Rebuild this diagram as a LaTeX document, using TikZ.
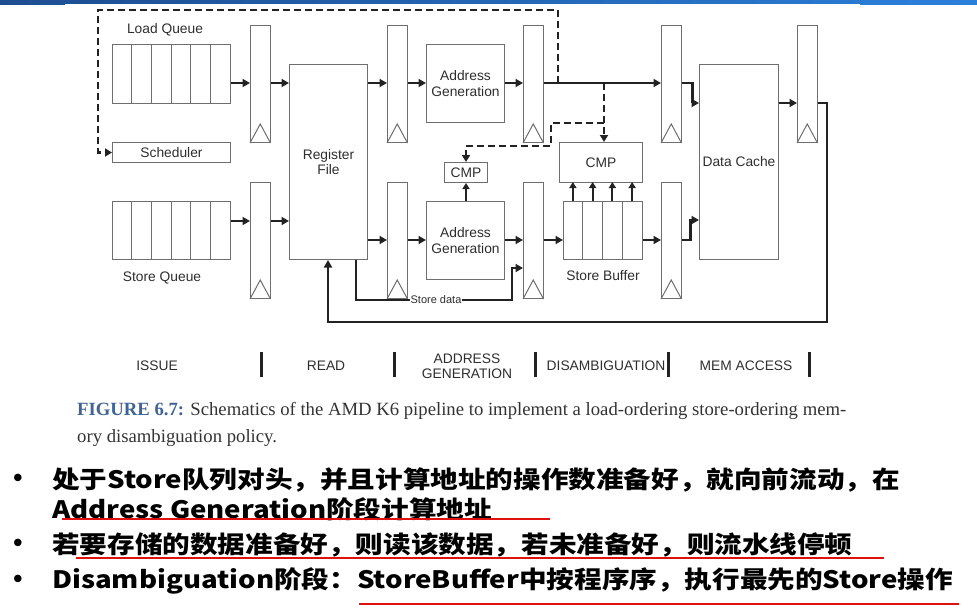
\documentclass[tikz,border=0pt]{standalone}
\usepackage{fontspec}
\setmainfont{Liberation Serif}
\newfontfamily\diagfont{Liberation Sans}
\newfontfamily\cjk{Noto Sans CJK SC}
\usetikzlibrary{arrows.meta}
\definecolor{boxgray}{HTML}{6E6E6E}
\definecolor{flowblack}{HTML}{222222}
\definecolor{labelgray}{HTML}{2E2E2E}
\definecolor{capblue}{HTML}{3F6596}
\definecolor{captext}{HTML}{333333}
\definecolor{barleft}{HTML}{1E4C8F}
\definecolor{barright}{HTML}{2A7FD9}
\definecolor{ulred}{HTML}{E01010}
\begin{document}
\begin{tikzpicture}[x=1pt,y=-1pt,
  box/.style={draw=boxgray, line width=1pt, inner sep=0pt, anchor=north west},
  latch/.style={box, minimum width=19.5pt},
  boxline/.style={draw=boxgray, line width=1pt},
  wire/.style={line width=2.2pt, draw=flowblack},
  flow/.style={wire, -{Triangle[length=7.5pt,width=8pt]}},
  flowS/.style={wire, line width=1.8pt, -{Triangle[length=6pt,width=7pt]}},
  ctrl/.style={wire, dash pattern=on 7pt off 4pt, -{Triangle[length=7pt,width=8pt]}},
  lbl/.style={font=\diagfont\fontsize{13.8}{15.5}\selectfont, text=labelgray, inner sep=0pt, align=center},
  stage/.style={font=\diagfont\fontsize{13.8}{15.5}\selectfont, text=labelgray, inner sep=0pt, align=center},
  divider/.style={line width=3pt, draw=flowblack},
  bullettext/.style={anchor=west, inner sep=0pt, font=\cjk\bfseries\fontsize{24}{28}\selectfont},
  ul/.style={draw=ulred, line width=1.8pt},
]
\useasboundingbox (0,0) rectangle (977,613);

% title bar
\shade[left color=barleft, right color=barright] (0,0) rectangle (977,3.6);
\shade[left color=barleft, right color=barleft!90!barright] (0,0) rectangle (65,4.6);
\shade[left color=barright!95!barleft, right color=barright] (860,0) rectangle (977,4.8);

% row levels of the flow lines
\coordinate (rowA) at (0,83);
\coordinate (rowB) at (0,103);
\coordinate (rowC) at (0,221);
\coordinate (rowE) at (0,220);
\coordinate (rowD) at (0,240);
\coordinate (rowSD) at (0,268);

% queues and scheduler
\node[box, minimum width=118pt, minimum height=59pt] (lq) at (112,44) {};
\node[box, minimum width=118pt, minimum height=58pt] (sq) at (112,201) {};
\foreach \i in {1,...,5} {
  \draw[boxline] ([xshift=\i*19.67pt]lq.north west) -- ([xshift=\i*19.67pt]lq.south west);
  \draw[boxline] ([xshift=\i*19.67pt]sq.north west) -- ([xshift=\i*19.67pt]sq.south west);
}
\node[lbl] (lqname) at (165,30) {Load Queue};
\node[lbl] (sqname) at (162,278) {Store Queue};
\node[box, minimum width=118pt, minimum height=20pt, lbl, anchor=north west] (sched) at (112,142) {Scheduler};

% pipeline latches
\node[latch, minimum height=117pt] (l1t) at (250,25) {};
\node[latch, minimum height=116pt] (l1b) at (250,182) {};
\node[latch, minimum height=117pt] (l2t) at (387,25) {};
\node[latch, minimum height=116pt] (l2b) at (387,182) {};
\node[latch, minimum height=117pt] (l3t) at (523,25) {};
\node[latch, minimum height=116pt] (l3b) at (523,182) {};
\node[latch, minimum height=117pt] (l4t) at (661,25) {};
\node[latch, minimum height=116pt] (l4b) at (661,182) {};
\node[latch, minimum height=117pt] (l5t) at (797,25) {};
\foreach \l in {l1t,l1b,l2t,l2b,l3t,l3b,l4t,l4b,l5t}
  \draw[boxline] (\l.south west) -- ([yshift=19pt]\l.south) -- (\l.south east);

% functional blocks
\node[box, minimum width=78pt, minimum height=195pt, lbl, anchor=north west] (rf) at (289,64) {Register\\File};
\node[box, minimum width=78pt, minimum height=78pt, lbl, anchor=north west] (ag1) at (426,44) {Address\\Generation};
\node[box, minimum width=78pt, minimum height=78pt, lbl, anchor=north west] (ag2) at (426,201) {Address\\Generation};
\node[box, minimum width=43pt, minimum height=20pt, lbl, anchor=north west] (cmpS) at (444,162) {CMP};
\node[box, minimum width=83pt, minimum height=40pt, lbl, anchor=north west] (cmpB) at (559,142) {CMP};
\node[box, minimum width=79pt, minimum height=58pt] (sb) at (563,201) {};
\foreach \i in {1,2,3}
  \draw[boxline] ([xshift=\i*19.75pt]sb.north west) -- ([xshift=\i*19.75pt]sb.south west);
\node[lbl] (sbname) at (603,276) {Store Buffer};
\node[box, minimum width=79pt, minimum height=195pt, lbl, anchor=north west] (dc) at (699,64) {Data Cache};

% load path
\draw[flow] (lq.east |- rowA) -- (l1t.west |- rowA);
\draw[flow] (l1t.east |- rowA) -- (rf.west |- rowA);
\draw[flow] (rf.east |- rowA) -- (l2t.west |- rowA);
\draw[flow] (l2t.east |- rowA) -- (ag1.west |- rowA);
\draw[flow] (ag1.east |- rowA) -- (l3t.west |- rowA);
\draw[flow] (l3t.east |- rowA) -- (l4t.west |- rowA);
\draw[flow] (l4t.east |- rowA) -- ++(11,0) |- (dc.west |- rowB);
\draw[flow] (dc.east |- rowB) -- (l5t.west |- rowB);

% store path
\draw[flow] (sq.east |- rowC) -- (l1b.west |- rowC);
\draw[flow] (l1b.east |- rowC) -- (rf.west |- rowC);
\draw[flow] (rf.east |- rowD) -- (l2b.west |- rowD);
\draw[flow] (l2b.east |- rowD) -- (ag2.west |- rowD);
\draw[flow] (ag2.east |- rowD) -- (l3b.west |- rowD);
\draw[flow] (l3b.east |- rowD) -- (sb.west |- rowD);
\draw[flow] (sb.east |- rowD) -- (l4b.west |- rowD);
\draw[flow] (l4b.east |- rowD) -- ++(9,0) |- (dc.west |- rowE);

% store data bypass
\coordinate (sdTurn) at (512,300);
\draw[flow] ([xshift=-12pt]rf.south east) |- (sdTurn) |- (l3b.west |- rowSD);
\node[fill=white, inner sep=0.6pt, font=\diagfont\fontsize{11}{13}\selectfont, text=labelgray] (sdname) at (436,300) {Store data};

% result loop back to the register file
\coordinate (loopR) at (827,322);
\coordinate (loopL) at (328,322);
\draw[flow] (l5t.east |- rowB) -| (loopR) -- (loopL) -- (loopL |- rf.south);

% comparators
\draw[flowS] (cmpS.south |- ag2.north) -- (cmpS.south);
\foreach \i in {0,...,3}
  \draw[flowS] ([xshift={(\i+0.5)*19.75pt}]sb.north west) -- ++(0,-19);

% dashed control lines
\coordinate (jA) at (558,83);
\coordinate (fbTop) at (98,10);
\draw[ctrl] (jA) |- (fbTop) |- (sched.west);
\coordinate (jB) at (604,83);
\draw[ctrl] (jB) -- (jB |- cmpB.north);
\coordinate (jC) at (604,123);
\draw[ctrl] (jC) -- ++(-53,0) -- ++(0,23) -| (cmpS.north);

% pipeline stages
\node[stage] (sIssue) at (157,366) {ISSUE};
\node[stage] (sRead) at (326,366) {READ};
\node[stage] (sAddr) at (467,366) {ADDRESS\\GENERATION};
\node[stage] (sDis) at (606,366) {DISAMBIGUATION};
\node[stage] (sMem) at (746,366) {MEM ACCESS};
\foreach \x in {261,394,535,668,809}
  \draw[divider] (\x,352) -- (\x,377);

% caption
\node[anchor=base west, inner sep=0pt, font=\fontsize{18.7}{22}\selectfont, text=captext] (cap1) at (77,415)
  {\textcolor{capblue}{\bfseries FIGURE 6.7:} Schematics of the AMD K6 pipeline to implement a load-ordering store-ordering mem-};
\node[anchor=base west, inner sep=0pt, font=\fontsize{18.7}{22}\selectfont, text=captext] (cap2) at (77,442)
  {ory disambiguation policy.};

% bullet points
\foreach \y in {480,545,581}
  \node[anchor=center, font=\diagfont\bfseries\fontsize{26}{30}\selectfont] at (18,\y) {•};
\node[bullettext] (b1) at (52,480) {\scalebox{1.15}[1]{处于Store队列对头，并且计算地址的操作数准备好，就向前流动，在}};
\node[bullettext] (b2) at (52,509) {\scalebox{1.15}[1]{Address Generation阶段计算地址}};
\node[bullettext] (b3) at (52,545) {\scalebox{1.15}[1]{若要存储的数据准备好，则读该数据，若未准备好，则流水线停顿}};
\node[bullettext] (b4) at (52,581) {\scalebox{1.15}[1]{Disambiguation阶段：StoreBuffer中按程序序，执行最先的Store操作}};
\draw[ul] (62,519) -- (550,519);
\draw[ul] (76,558) -- (884,558);
\draw[ul] (359,604) -- (959,604);
\end{tikzpicture}
\end{document}
